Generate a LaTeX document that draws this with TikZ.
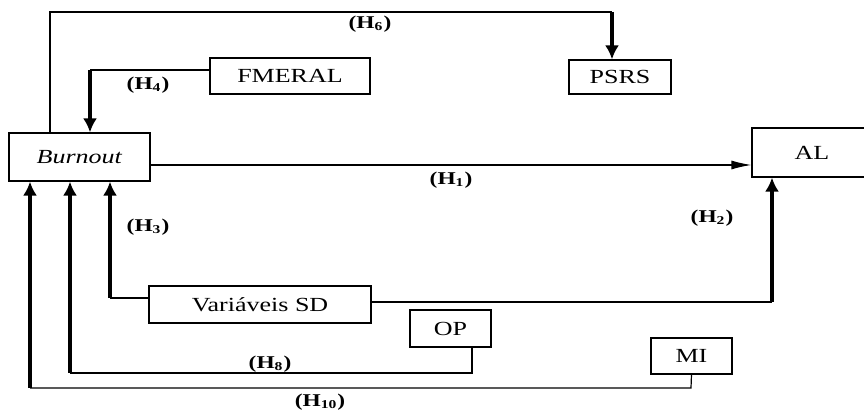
\documentclass[tikz,border=0pt]{standalone}
\usepackage{fontspec}
\setmainfont{Liberation Serif}
\newfontfamily\boxfont[FakeStretch=1.3]{Liberation Serif}
\usetikzlibrary{arrows.meta,positioning}

\begin{document}
\begin{tikzpicture}[
  x=0.5pt,y=-0.5pt,
  box/.style={draw,line width=0.6pt,inner sep=0pt,
              font=\boxfont\fontsize{10}{12}\selectfont},
  hyp/.style={font=\boxfont\bfseries\fontsize{9}{11}\selectfont},
  thin/.style={line width=0.6pt},
  arrow/.style={-{Latex[length=10pt,width=4.5pt]},line width=0.6pt},
  bigarrow/.style={-{Latex[length=7pt,width=7pt]},line width=1.7pt}
]
\clip (0,0) rectangle (864,410);

% boxes
\node[box,minimum width=70.5pt,minimum height=24pt] (burnout) at (79.5,157) {\textit{Burnout}};
\node[box,minimum width=80pt,minimum height=18pt] (fmeral) at (290,76) {FMERAL};
\node[box,minimum width=51pt,minimum height=17pt] (psrs) at (620,77) {PSRS};
\node[box,minimum width=60pt,minimum height=24.5pt] (al) at (812,152.5) {AL};
\node[box,minimum width=111pt,minimum height=18.5pt] (vsd) at (260,304.5) {Variáveis SD};
\node[box,minimum width=40.5pt,minimum height=18.5pt] (op) at (450.5,328.5) {OP};
\node[box,minimum width=40.5pt,minimum height=18pt] (mi) at (691.5,356) {MI};

% bends of the connectors
\coordinate (h6a) at (50,12);
\coordinate (h6b) at (612,12);
\coordinate (h4) at (90,70);
\coordinate (h1) at (0,165);
\coordinate (h3) at (110,298);
\coordinate (h2) at (772,302);
\coordinate (h8r) at (472,373);
\coordinate (h8) at (70,373);
\coordinate (h10r) at (691,388);
\coordinate (h10) at (30,388);

% connectors
\draw[thin] (burnout.north -| h6a) -- (h6a) -- (h6b);
\draw[bigarrow] (h6b) -- (psrs.north -| h6b);
\draw[thin] (fmeral.west |- h4) -- (h4);
\draw[bigarrow] (h4) -- (burnout.north -| h4);
\draw[arrow] (burnout.east |- h1) -- (al.west |- h1);
\draw[thin] (vsd.west |- h3) -- (h3);
\draw[bigarrow] (h3) -- (burnout.south -| h3);
\draw[thin] (vsd.east |- h2) -- (h2);
\draw[bigarrow] (h2) -- (al.south -| h2);
\draw[thin] (op.south -| h8r) -- (h8r) -- (h8);
\draw[bigarrow] (h8) -- (burnout.south -| h8);
\draw[thin] (mi.south) -- (h10r) -- (h10);
\draw[bigarrow] (h10) -- (burnout.south -| h10);

% labels
\node[hyp] (lh6) at (370,24) {(H\textsubscript{6})};
\node[hyp] (lh4) at (148,85) {(H\textsubscript{4})};
\node[hyp] (lh1) at (451,180) {(H\textsubscript{1})};
\node[hyp] (lh3) at (148,227) {(H\textsubscript{3})};
\node[hyp] (lh2) at (712,218) {(H\textsubscript{2})};
\node[hyp] (lh8) at (270,364) {(H\textsubscript{8})};
\node[hyp] (lh10) at (320,402) {(H\textsubscript{10})};
\end{tikzpicture}
\end{document}
